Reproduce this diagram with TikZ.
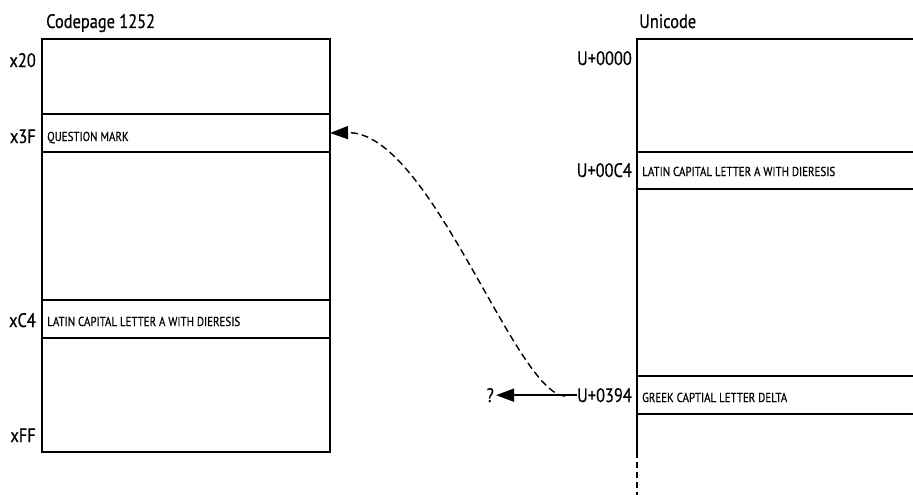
\documentclass[tikz,border=0pt]{standalone}
\usepackage{fontspec}
\setmainfont{PT Sans}[FakeStretch=0.84,FakeBold=0.5]
\usepackage{tikz}
\usetikzlibrary{arrows.meta}

\begin{document}
\begin{tikzpicture}[x=1pt,y=-1pt,
    box/.style={line width=2pt},
    rowbox/.style={draw,line width=2pt,anchor=north west,inner sep=0pt,outer sep=0pt},
    codelbl/.style={font=\fontsize{19.5}{22}\selectfont,inner sep=0pt},
    charname/.style={font=\fontsize{13}{15}\selectfont,inner sep=0pt,anchor=base west},
    tip/.style={-{Triangle[length=18pt,width=13pt]}}]
    \useasboundingbox (0,0) rectangle (913,495);

    % Codepage 1252
    \node[codelbl,anchor=base west] (cptitle) at (46,28) {Codepage 1252};
    \draw[box] (42,39) rectangle (330,452);
    \node[rowbox,minimum width=288,minimum height=38] (row3f) at (42,114) {};
    \node[rowbox,minimum width=288,minimum height=38] (rowc4) at (42,300) {};
    \node[codelbl,anchor=base east] (x20) at (36,67) {x20};
    \node[codelbl,anchor=base east] (x3f) at (36,143) {x3F};
    \node[codelbl,anchor=base east] (xc4) at (36,327) {xC4};
    \node[codelbl,anchor=base east] (xff) at (36,442) {xFF};
    \node[charname] (n3f) at (47,141) {QUESTION MARK};
    \node[charname] (nc4) at (47,326) {LATIN CAPITAL LETTER A WITH DIERESIS};

    % Unicode
    \node[codelbl,anchor=base west] (uctitle) at (639,28) {Unicode};
    \draw[box] (913,39) -- (637,39) -- (637,452);
    \draw[box,dashed,dash pattern=on 6pt off 4pt] (637,452) -- (637,495);
    \draw[box] (637,152) -- (913,152) (637,189) -- (913,189);
    \draw[box] (637,376) -- (913,376) (637,414) -- (913,414);
    \node[codelbl,anchor=base east] (u0000) at (632,65) {U+0000};
    \node[codelbl,anchor=base east] (u00c4) at (632,177) {U+00C4};
    \node[codelbl,anchor=base east] (u0394) at (632,402) {U+0394};
    \node[charname] (nuc4) at (642,176) {LATIN CAPITAL LETTER A WITH DIERESIS};
    \node[charname] (nu394) at (642,402) {GREEK CAPTIAL LETTER DELTA};

    % mapping
    \node[codelbl,anchor=base east] (qm) at (494,402) {?};
    \draw[tip,line width=1.6pt] (u0394.west) -- ([xshift=2pt]qm.east);
    \draw[tip,line width=1.4pt,dashed,dash pattern=on 7pt off 4pt]
        ([xshift=-12pt,yshift=-1pt]u0394.west) .. controls (515,393) and (430,131) .. (row3f.east);
\end{tikzpicture}
\end{document}
